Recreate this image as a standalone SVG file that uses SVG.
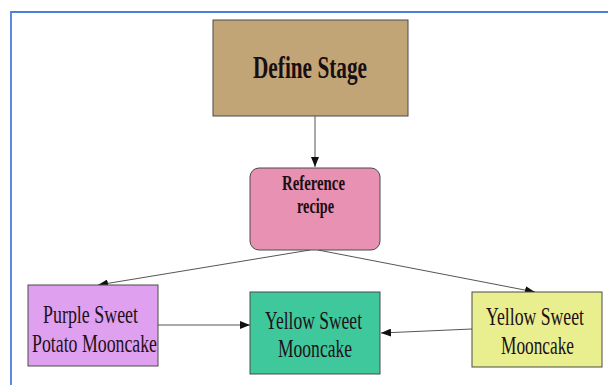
<svg xmlns="http://www.w3.org/2000/svg" width="608" height="385" viewBox="0 0 608 385">
  <defs>
    <marker id="arrow" viewBox="0 0 10 8" refX="10" refY="4" markerWidth="10" markerHeight="8" markerUnits="userSpaceOnUse" orient="auto">
      <path d="M0,0 L10,4 L0,8 Z" fill="#111"/>
    </marker>
  </defs>
  <style>
    .frame { fill: none; stroke: #4a7fdc; stroke-width: 1.8; }
    .box { stroke: #4a4a4a; stroke-width: 1; }
    .bold { font-family: "Liberation Serif", "Times New Roman", serif; font-weight: bold; fill: #1a0e12; text-anchor: middle; }
    .reg { font-family: "Liberation Serif", "Times New Roman", serif; fill: #1e1018; text-anchor: middle; font-size: 26px; }
    .conn { fill: none; stroke: #555; stroke-width: 1; marker-end: url(#arrow); }
  </style>
  <rect width="608" height="385" fill="#ffffff"/>
  <!-- outer frame: only the left and top edges fall inside the canvas -->
  <path class="frame" d="M11,385 V12 H608"/>

  <g id="connectors">
    <line class="conn" x1="315" y1="116" x2="315" y2="167"/>
    <line class="conn" x1="310" y1="250" x2="98" y2="285"/>
    <line class="conn" x1="318" y1="250" x2="535" y2="292"/>
    <line class="conn" x1="158" y1="325" x2="250" y2="325"/>
    <line class="conn" x1="472" y1="329" x2="381" y2="333"/>
  </g>

  <g id="define-stage">
    <rect class="box" x="213" y="20" width="195" height="96" fill="#c2a576" stroke="#222" stroke-width="1.6"/>
    <text class="bold" x="310" y="78" font-size="31" textLength="114" lengthAdjust="spacingAndGlyphs">Define Stage</text>
  </g>

  <g id="reference-recipe">
    <rect class="box" x="250" y="168" width="130" height="82" rx="9" ry="9" fill="#e891b3" stroke="#333" stroke-width="1.3"/>
    <text class="bold" x="313.5" y="190" font-size="20" textLength="63" lengthAdjust="spacingAndGlyphs">Reference</text>
    <text class="bold" x="315.5" y="213" font-size="20" textLength="37" lengthAdjust="spacingAndGlyphs">recipe</text>
  </g>

  <g id="purple-sweet-potato">
    <rect class="box" x="28" y="285" width="130" height="81" fill="#dfa0ef"/>
    <text class="reg" x="90.5" y="323" textLength="95" lengthAdjust="spacingAndGlyphs">Purple Sweet</text>
    <text class="reg" x="94.5" y="352" textLength="125" lengthAdjust="spacingAndGlyphs">Potato Mooncake</text>
  </g>

  <g id="yellow-sweet-center">
    <rect class="box" x="250" y="292" width="130" height="82" fill="#3ec89c"/>
    <text class="reg" x="313.5" y="329" textLength="97" lengthAdjust="spacingAndGlyphs">Yellow Sweet</text>
    <text class="reg" x="315" y="357" textLength="74" lengthAdjust="spacingAndGlyphs">Mooncake</text>
  </g>

  <g id="yellow-sweet-right">
    <rect class="box" x="472" y="292" width="130" height="75" fill="#e9ef8e"/>
    <text class="reg" x="535" y="325" textLength="98" lengthAdjust="spacingAndGlyphs">Yellow Sweet</text>
    <text class="reg" x="537.5" y="354" textLength="73" lengthAdjust="spacingAndGlyphs">Mooncake</text>
  </g>
</svg>
